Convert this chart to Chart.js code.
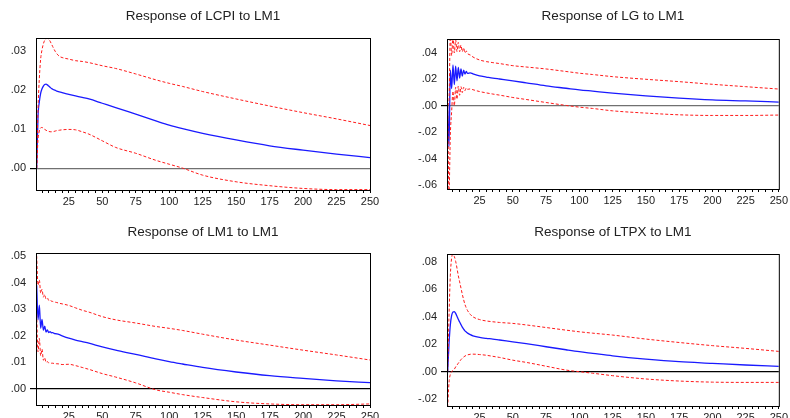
<!DOCTYPE html>
<html>
<head>
<meta charset="utf-8">
<script src="https://cdn.jsdelivr.net/npm/chart.js@4/dist/chart.umd.min.js"></script>
<style>
  html, body { margin: 0; padding: 0; background: #fff; }
  body { width: 790px; height: 418px; overflow: hidden; position: relative; }
  canvas { position: absolute; }
</style>
</head>
<body>
<canvas id="p1" width="395" height="210" style="left:0;top:0"></canvas>
<canvas id="p2" width="395" height="210" style="left:395px;top:0"></canvas>
<canvas id="p3" width="395" height="230" style="left:0;top:210px"></canvas>
<canvas id="p4" width="395" height="230" style="left:395px;top:210px"></canvas>
<script>
// horizon steps (periods after the shock)
const steps = [1, 2, 3, 4, 5, 6, 7, 8, 9, 10, 11, 12, 13, 14, 15, 16, 18, 20, 25, 30, 35, 40, 50, 60, 75, 90, 100, 110, 125, 150, 175, 200, 225, 250];
const xTicks = [5, 10, 15, 20, 25, 30, 35, 40, 45, 50, 55, 60, 65, 70, 75, 80, 85, 90, 95, 100, 105, 110, 115, 120, 125, 130, 135, 140, 145, 150, 155, 160, 165, 170, 175, 180, 185, 190, 195, 200, 205, 210, 215, 220, 225, 230, 235, 240, 245, 250];

// Response of LCPI to LM1
const lcpiTicks = [0, 0.01, 0.02, 0.03];
const lcpiResp = [0, 0.0132, 0.017, 0.0192, 0.0203, 0.021, 0.0214, 0.0215, 0.0213, 0.021, 0.0207, 0.0204, 0.0202, 0.02, 0.0199, 0.0197, 0.0195, 0.0193, 0.0189, 0.0185, 0.0181, 0.0177, 0.0166, 0.0155, 0.0138, 0.0121, 0.011, 0.0101, 0.0089, 0.0072, 0.0057, 0.0046, 0.0036, 0.0027];
const lcpiUpper = [0, 0.015, 0.023, 0.028, 0.0303, 0.0318, 0.0327, 0.0331, 0.0332, 0.033, 0.0325, 0.0318, 0.0311, 0.0304, 0.0298, 0.0293, 0.0286, 0.0283, 0.0279, 0.0275, 0.0273, 0.027, 0.0262, 0.0255, 0.0241, 0.0226, 0.0217, 0.0209, 0.0196, 0.0177, 0.0159, 0.0142, 0.0126, 0.0109];
const lcpiLower = [0, 0.0072, 0.0095, 0.0103, 0.0104, 0.0102, 0.0099, 0.0097, 0.0095, 0.0094, 0.0093, 0.0093, 0.0093, 0.0094, 0.0095, 0.0096, 0.0097, 0.0098, 0.0099, 0.0098, 0.0093, 0.0087, 0.007, 0.0053, 0.0038, 0.002, 0.001, 0, -0.0018, -0.0035, -0.0045, -0.0052, -0.0055, -0.0055];

// Response of LG to LM1
const lgTicks = [-0.06, -0.04, -0.02, 0, 0.02, 0.04];
const lgResp = [0, -0.031, 0.027, 0.013, 0.031, 0.016, 0.03, 0.019, 0.029, 0.021, 0.028, 0.0225, 0.027, 0.024, 0.026, 0.0245, 0.025, 0.0242, 0.0226, 0.0218, 0.021, 0.0203, 0.0189, 0.0174, 0.0151, 0.0133, 0.0121, 0.0111, 0.0096, 0.0075, 0.0058, 0.0045, 0.0037, 0.0028];
const lgUpper = [0, 0.004, 0.054, 0.038, 0.052, 0.04, 0.05, 0.041, 0.048, 0.041, 0.046, 0.041, 0.044, 0.04, 0.0415, 0.0395, 0.0385, 0.037, 0.0347, 0.0335, 0.0327, 0.032, 0.0304, 0.0294, 0.0279, 0.026, 0.0247, 0.0237, 0.0221, 0.0201, 0.0183, 0.0163, 0.0145, 0.0127];
const lgLower = [0, -0.066, -0.022, -0.004, 0.011, 0, 0.014, 0.005, 0.015, 0.008, 0.0145, 0.01, 0.014, 0.0115, 0.0135, 0.0125, 0.0128, 0.0122, 0.0108, 0.0098, 0.0089, 0.0081, 0.0063, 0.0048, 0.0025, 0.0003, -0.001, -0.002, -0.0038, -0.0055, -0.0068, -0.0073, -0.0073, -0.007];

// Response of LM1 to LM1
const lm1Ticks = [0, 0.01, 0.02, 0.03, 0.04, 0.05];
const lm1Resp = [0.039, 0.026, 0.0315, 0.0228, 0.0262, 0.0221, 0.0236, 0.0214, 0.0222, 0.0212, 0.0216, 0.0211, 0.0212, 0.0209, 0.0208, 0.0207, 0.0204, 0.02, 0.0191, 0.0184, 0.0178, 0.0172, 0.0158, 0.0146, 0.013, 0.0113, 0.0103, 0.0094, 0.0081, 0.0064, 0.005, 0.004, 0.0031, 0.0024];
const lm1Upper = [0.05, 0.039, 0.041, 0.036, 0.0375, 0.0345, 0.0355, 0.0338, 0.0342, 0.0333, 0.0335, 0.033, 0.0329, 0.0327, 0.0326, 0.0325, 0.0322, 0.032, 0.0314, 0.0305, 0.0296, 0.0289, 0.0272, 0.026, 0.0248, 0.0235, 0.0228, 0.022, 0.0206, 0.0184, 0.0165, 0.0146, 0.0128, 0.0109];
const lm1Lower = [0.028, 0.014, 0.019, 0.0125, 0.015, 0.0108, 0.0118, 0.01, 0.0103, 0.0098, 0.0099, 0.0097, 0.0097, 0.0096, 0.0095, 0.0095, 0.0094, 0.0092, 0.0093, 0.0088, 0.0081, 0.0074, 0.0058, 0.0045, 0.0023, -0.0003, -0.0012, -0.0021, -0.0032, -0.0048, -0.0056, -0.0059, -0.0059, -0.0056];

// Response of LTPX to LM1
const ltpxTicks = [-0.02, 0, 0.02, 0.04, 0.06, 0.08];
const ltpxResp = [0, 0.02, 0.034, 0.041, 0.0435, 0.0438, 0.0425, 0.0405, 0.0382, 0.0362, 0.0343, 0.0325, 0.031, 0.0298, 0.0289, 0.0281, 0.027, 0.0262, 0.025, 0.0243, 0.0238, 0.0231, 0.0218, 0.0204, 0.0182, 0.016, 0.0146, 0.0134, 0.0116, 0.0092, 0.0073, 0.0061, 0.0049, 0.0039];
const ltpxUpper = [0, 0.04, 0.07, 0.083, 0.0856, 0.084, 0.0805, 0.0755, 0.07, 0.0655, 0.061, 0.0565, 0.0525, 0.049, 0.0465, 0.0445, 0.0418, 0.04, 0.038, 0.037, 0.0364, 0.0359, 0.0352, 0.0341, 0.0322, 0.0303, 0.0291, 0.0281, 0.0267, 0.0238, 0.0213, 0.019, 0.017, 0.0148];
const ltpxLower = [-0.026, -0.008, -0.002, 0, 0.001, 0.0018, 0.0035, 0.0048, 0.0062, 0.0075, 0.0088, 0.0098, 0.0107, 0.0114, 0.0119, 0.0123, 0.0127, 0.0128, 0.0125, 0.012, 0.0112, 0.0104, 0.0084, 0.0068, 0.004, 0.0012, 0, -0.0011, -0.0029, -0.0053, -0.0068, -0.0076, -0.0078, -0.0078];

const font = "'Liberation Sans', Arial, sans-serif";

// box round the plot area (top and right sides)
const framePlugin = {
  id: 'frame',
  afterDraw: (chart) => {
    const { ctx, chartArea } = chart;
    ctx.save();
    ctx.strokeStyle = '#000';
    ctx.lineWidth = 1;
    ctx.strokeRect(chartArea.left + 0.5, chartArea.top + 0.5, chartArea.right - chartArea.left, chartArea.bottom - chartArea.top);
    ctx.restore();
  }
};

const fmtY = (v) => (v < 0 ? '-' : '') + Math.abs(v).toFixed(2).slice(1);

const toPoints = (values) => values.map((v, i) => ({ x: steps[i], y: v }));

const makePanel = (id, cfg) => {
  const line = (data, color, dashed, width) => ({
    data: toPoints(data),
    borderColor: color,
    borderWidth: width,
    borderDash: dashed ? [3, 2] : [],
    pointRadius: 0,
    cubicInterpolationMode: 'monotone',
    fill: false
  });

  return new Chart(document.getElementById(id), {
    type: 'line',
    data: {
      datasets: [
        line(cfg.lower, '#ff1a1a', true, 1),
        line(cfg.upper, '#ff1a1a', true, 1),
        line(cfg.resp, '#1a1aff', false, 1.3)
      ]
    },
    options: {
      responsive: false,
      animation: false,
      layout: { padding: { left: 0, right: cfg.padRight, top: 0, bottom: 0 } },
      plugins: {
        legend: { display: false },
        tooltip: { enabled: false },
        title: {
          display: true,
          text: cfg.title,
          fullSize: false,
          color: '#222',
          font: { family: font, size: 13.5, weight: 'normal' },
          padding: { top: cfg.titleTop, bottom: cfg.titleBottom }
        }
      },
      scales: {
        x: {
          type: 'linear',
          min: 0.5,
          max: 250,
          afterBuildTicks: (scale) => { scale.ticks = xTicks.map((v) => ({ value: v })); },
          afterFit: (scale) => { scale.height = cfg.xHeight; },
          grid: { drawOnChartArea: false, tickLength: 3, tickColor: '#000' },
          border: { display: true, color: '#000', width: 1 },
          ticks: {
            autoSkip: false,
            maxRotation: 0,
            padding: 2,
            color: '#222',
            font: { family: font, size: 11 },
            callback: (v) => (v % 25 === 0 ? String(v) : '')
          }
        },
        y: {
          min: cfg.yMin,
          max: cfg.yMax,
          afterBuildTicks: (scale) => { scale.ticks = cfg.ticks.map((v) => ({ value: v })); },
          afterFit: (scale) => { scale.width = cfg.yWidth; },
          grid: {
            tickLength: 6,
            tickColor: '#000',
            lineWidth: (c) => (c.tick && c.tick.value === 0 ? 1.2 : 0),
            color: (c) => (c.tick && c.tick.value === 0 ? cfg.zeroColor : 'rgba(0,0,0,0)')
          },
          border: { display: true, color: '#000', width: 1 },
          ticks: {
            padding: 4,
            color: '#222',
            font: { family: font, size: 11 },
            callback: (v) => fmtY(v)
          }
        }
      }
    },
    plugins: [framePlugin]
  });
};

makePanel('p1', {
  title: 'Response of LCPI to LM1',
  resp: lcpiResp, upper: lcpiUpper, lower: lcpiLower, ticks: lcpiTicks,
  yMin: -0.0056, yMax: 0.0333, zeroColor: '#707070',
  yWidth: 36, padRight: 25, xHeight: 20, titleTop: 7.9, titleBottom: 13.9
});

makePanel('p2', {
  title: 'Response of LG to LM1',
  resp: lgResp, upper: lgUpper, lower: lgLower, ticks: lgTicks,
  yMin: -0.063, yMax: 0.0506, zeroColor: '#707070',
  yWidth: 52, padRight: 9, xHeight: 21, titleTop: 7.9, titleBottom: 14.9
});

makePanel('p3', {
  title: 'Response of LM1 to LM1',
  resp: lm1Resp, upper: lm1Upper, lower: lm1Lower, ticks: lm1Ticks,
  yMin: -0.006, yMax: 0.0511, zeroColor: '#000',
  yWidth: 36, padRight: 25, xHeight: 35, titleTop: 13.9, titleBottom: 12.9
});

makePanel('p4', {
  title: 'Response of LTPX to LM1',
  resp: ltpxResp, upper: ltpxUpper, lower: ltpxLower, ticks: ltpxTicks,
  yMin: -0.025, yMax: 0.0858, zeroColor: '#000',
  yWidth: 52, padRight: 9, xHeight: 34, titleTop: 13.9, titleBottom: 13.9
});
</script>
</body>
</html>
